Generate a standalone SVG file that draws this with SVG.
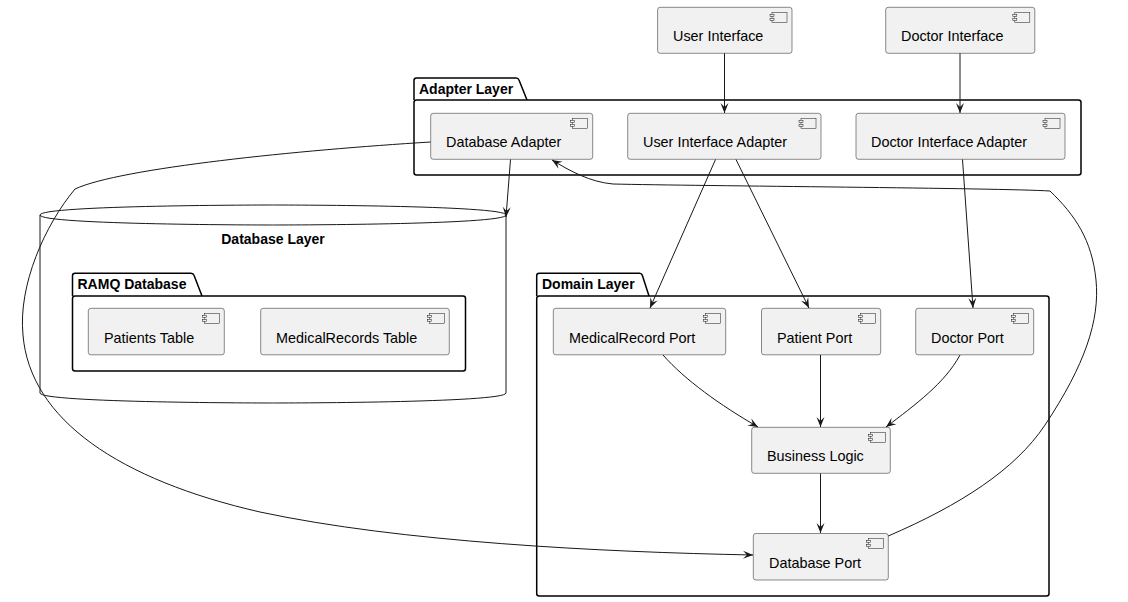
<svg xmlns="http://www.w3.org/2000/svg" width="1128" height="602" viewBox="0 0 1128 602">
<defs>
<style>
.comp{fill:#F1F1F1;stroke:#181818;stroke-width:0.5;}
.ico{fill:#F1F1F1;stroke:#181818;stroke-width:0.5;}
.pkg{fill:none;stroke:#000000;stroke-width:1.5;}
.lbl{font-family:"Liberation Sans",Arial,sans-serif;font-size:14.4px;fill:#000000;}
.ttl{font-family:"Liberation Sans",Arial,sans-serif;font-size:14px;font-weight:bold;fill:#000000;}
.edge{fill:none;stroke:#181818;stroke-width:1;}
</style>
<marker id="arr" viewBox="-11 -5 12 10" refX="0" refY="0" markerWidth="12" markerHeight="10" orient="auto" markerUnits="userSpaceOnUse">
<path d="M0,0 L-10,-4 L-6,0 L-10,4 Z" fill="#181818"/>
</marker>
<g id="icon">
<rect x="-20" y="5" width="15" height="10" class="ico"/>
<rect x="-22" y="7" width="4" height="2" class="ico"/>
<rect x="-22" y="11" width="4" height="2" class="ico"/>
</g>
</defs>
<rect width="1128" height="602" fill="#FFFFFF"/>

<g id="database-layer">
<path d="M40,215 C40,205 273,205 273,205 C273,205 506,205 506,215 L506,393 C506,403 273,403 273,403 C273,403 40,403 40,393 Z" fill="#FFFFFF" stroke="#181818" stroke-width="1"/>
<path d="M40,215 C40,225 273,225 273,225 C273,225 506,225 506,215" fill="none" stroke="#181818" stroke-width="1"/>
<text x="273" y="244" text-anchor="middle" class="ttl">Database Layer</text>
</g>

<g id="adapter-layer">
<path class="pkg" d="M414,100 V80.5 Q414,78 416.5,78 H516 Q518.3,78 519,80 L527,100"/>
<rect x="414" y="100" width="667" height="75" rx="2.5" class="pkg"/>
<text x="419" y="94" class="ttl">Adapter Layer</text>
</g>

<g id="ramq-database">
<path class="pkg" d="M72.5,296 V275.8 Q72.5,273.3 75,273.3 H191 Q193.3,273.3 194,275.3 L202,296"/>
<rect x="72.5" y="296" width="393" height="75" rx="2.5" class="pkg"/>
<text x="77.5" y="289" class="ttl">RAMQ Database</text>
</g>

<g id="domain-layer">
<path class="pkg" d="M536.7,296 V275.8 Q536.7,273.3 539.2,273.3 H639.5 Q641.7,273.3 642.3,275.3 L649,296"/>
<rect x="536.7" y="296" width="512.3" height="300" rx="2.5" class="pkg"/>
<text x="542" y="289" class="ttl">Domain Layer</text>
</g>

<g id="user-interface">
<rect x="657.6" y="7.3" width="134.4" height="46" rx="2.5" class="comp"/>
<use href="#icon" x="792" y="7.3"/>
<text x="673" y="40.5" class="lbl">User Interface</text>
</g>
<g id="doctor-interface">
<rect x="885.7" y="7.3" width="149.1" height="46" rx="2.5" class="comp"/>
<use href="#icon" x="1034.8" y="7.3"/>
<text x="901" y="40.5" class="lbl">Doctor Interface</text>
</g>
<g id="database-adapter">
<rect x="430.7" y="113.3" width="162" height="46" rx="2.5" class="comp"/>
<use href="#icon" x="592.7" y="113.3"/>
<text x="446" y="146.5" class="lbl">Database Adapter</text>
</g>
<g id="user-interface-adapter">
<rect x="627.7" y="113.3" width="193.3" height="46" rx="2.5" class="comp"/>
<use href="#icon" x="821" y="113.3"/>
<text x="643" y="146.5" class="lbl">User Interface Adapter</text>
</g>
<g id="doctor-interface-adapter">
<rect x="856" y="113.3" width="209" height="46" rx="2.5" class="comp"/>
<use href="#icon" x="1065" y="113.3"/>
<text x="871" y="146.5" class="lbl">Doctor Interface Adapter</text>
</g>
<g id="patients-table">
<rect x="88.3" y="308.3" width="136" height="46.5" rx="2.5" class="comp"/>
<use href="#icon" x="224.3" y="308.3"/>
<text x="104" y="343" class="lbl">Patients Table</text>
</g>
<g id="medicalrecords-table">
<rect x="260.7" y="308.3" width="188.6" height="46.5" rx="2.5" class="comp"/>
<use href="#icon" x="449.3" y="308.3"/>
<text x="276" y="343" class="lbl">MedicalRecords Table</text>
</g>
<g id="medicalrecord-port">
<rect x="553.3" y="308.3" width="172.4" height="46.5" rx="2.5" class="comp"/>
<use href="#icon" x="725.7" y="308.3"/>
<text x="569" y="343" class="lbl">MedicalRecord Port</text>
</g>
<g id="patient-port">
<rect x="761.5" y="308.3" width="119.2" height="46.5" rx="2.5" class="comp"/>
<use href="#icon" x="880.7" y="308.3"/>
<text x="777" y="343" class="lbl">Patient Port</text>
</g>
<g id="doctor-port">
<rect x="915.7" y="308.3" width="118" height="46.5" rx="2.5" class="comp"/>
<use href="#icon" x="1033.7" y="308.3"/>
<text x="931" y="343" class="lbl">Doctor Port</text>
</g>
<g id="business-logic">
<rect x="751.7" y="427.3" width="138.6" height="46" rx="2.5" class="comp"/>
<use href="#icon" x="890.3" y="427.3"/>
<text x="767" y="460.5" class="lbl">Business Logic</text>
</g>
<g id="database-port">
<rect x="753.3" y="533.5" width="135" height="46.5" rx="2.5" class="comp"/>
<use href="#icon" x="888.3" y="533.5"/>
<text x="769" y="567.5" class="lbl">Database Port</text>
</g>

<g id="connectors">
<path class="edge" marker-end="url(#arr)" d="M724.5,53.3 L724.5,113"/>
<path class="edge" marker-end="url(#arr)" d="M960,53.3 L960,113"/>
<path class="edge" marker-end="url(#arr)" d="M510.5,159.5 L506,217"/>
<path class="edge" marker-end="url(#arr)" d="M715.5,159.5 L650,308"/>
<path class="edge" marker-end="url(#arr)" d="M736,159.5 L809,308"/>
<path class="edge" marker-end="url(#arr)" d="M962.5,159.5 L973,308"/>
<path class="edge" marker-end="url(#arr)" d="M663,355 C685,380 720,405 758,427"/>
<path class="edge" marker-end="url(#arr)" d="M820.5,355 L820.5,427"/>
<path class="edge" marker-end="url(#arr)" d="M960,355 C945,383 915,405 886,427"/>
<path class="edge" marker-end="url(#arr)" d="M820.5,473.5 L820.5,533"/>
<path class="edge" marker-end="url(#arr)" d="M430.5,142 C300,150 120,168 75,189 C45,225 18,285 23,335 C30,420 120,480 260,512 C400,542 600,552 753,555"/>
<path class="edge" marker-end="url(#arr)" d="M888.3,536 C960,505 1015,470 1045,425 C1085,365 1100,320 1096,280 C1092,240 1075,215 1050,191 C1000,188 700,186 613,184 C590,182 570,171 552,160"/>
</g>
</svg>
